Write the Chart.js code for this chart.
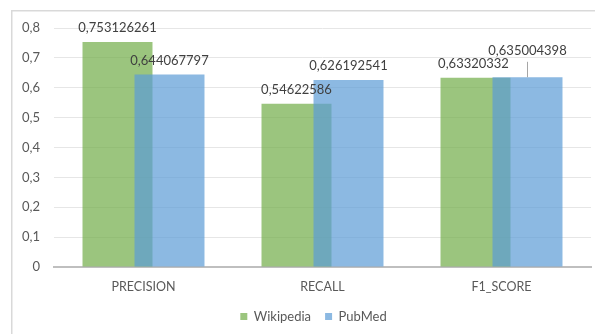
<!DOCTYPE html>
<html>
<head>
<meta charset="utf-8">
<script src="https://cdn.jsdelivr.net/npm/chart.js@4"></script>
<style>
  html, body { margin: 0; padding: 0; background: #ffffff; }
  #wrap { width: 595px; height: 334px; position: relative; }
</style>
</head>
<body>
<div id="wrap"><canvas id="chart" width="595" height="334"></canvas></div>
<script>
// Evaluation metrics per corpus
const categories = ['PRECISION', 'RECALL', 'F1_SCORE'];
const seriesNames = ['Wikipedia', 'PubMed'];
const wikipediaValues = [0.753126261, 0.54622586, 0.63320332];
const pubmedValues = [0.644067797, 0.626192541, 0.635004398];
const yTickLabels = ['0', '0,1', '0,2', '0,3', '0,4', '0,5', '0,6', '0,7', '0,8'];

const FONT = 'Lato, "Open Sans", "Liberation Sans", sans-serif';

// value -> "0,123" style text
function fmt(v) { return String(v).replace('.', ','); }

// Light frame around the chart
const framePlugin = {
  id: 'frame',
  beforeDraw(chart) {
    const ctx = chart.ctx;
    ctx.save();
    ctx.strokeStyle = '#d9d9d9';
    ctx.lineWidth = 1.5;
    ctx.beginPath();
    ctx.moveTo(11.75, chart.height + 2);
    ctx.lineTo(11.75, 10.75);
    ctx.lineTo(chart.width + 2, 10.75);
    ctx.stroke();
    ctx.restore();
  },
  afterLayout(chart) {
    // nudge the legend block a little to the right
    if (chart.legend) {
      chart.legend.left += 12;
      chart.legend.right += 12;
    }
  }
};

// Value labels above each bar; a label may be lifted with a leader line
function drawValueLabels(chart) {
  const ctx = chart.ctx;
  ctx.save();
  ctx.font = '13px ' + FONT;
  ctx.fillStyle = '#404040';
  ctx.textAlign = 'center';
  ctx.textBaseline = 'middle';
  chart.data.datasets.forEach((ds, di) => {
    const meta = chart.getDatasetMeta(di);
    const lifts = ds.labelLift || [];
    const shifts = ds.labelShift || [];
    meta.data.forEach((el, i) => {
      const lift = lifts[i] || 0;
      const x = el.x + (shifts[i] || 0);
      const y = el.y - 14 - lift;
      if (lift) {
        ctx.strokeStyle = '#a6a6a6';
        ctx.lineWidth = 1;
        ctx.beginPath();
        ctx.moveTo(Math.round(el.x) + 0.5, el.y);
        ctx.lineTo(Math.round(el.x) + 0.5, y + 11);
        ctx.stroke();
      }
      ctx.fillText(fmt(ds.data[i]), x, y);
    });
  });
  ctx.restore();
}

// Paint series in index order so later series sit on top of earlier ones
const drawOrderPlugin = {
  id: 'drawOrder',
  beforeDatasetsDraw(chart) {
    for (let i = 0; i < chart.data.datasets.length; i++) {
      const meta = chart.getDatasetMeta(i);
      if (!meta.hidden) meta.controller.draw();
    }
    drawValueLabels(chart);
    return false;
  }
};

new Chart(document.getElementById('chart'), {
  type: 'bar',
  data: {
    labels: categories,
    datasets: [
      {
        label: seriesNames[0],
        data: wikipediaValues,
        backgroundColor: 'rgba(112,173,71,0.7)',
        borderWidth: 0,
        labelShift: [0, 0, -2]
      },
      {
        label: seriesNames[1],
        data: pubmedValues,
        backgroundColor: 'rgba(91,155,213,0.7)',
        borderWidth: 0,
        labelLift: [0, 0, 12.5]
      }
    ]
  },
  options: {
    responsive: false,
    animation: false,
    devicePixelRatio: 1,
    categoryPercentage: 0.581,
    barPercentage: 1.346,
    layout: { padding: { left: 12, top: 28, right: 4, bottom: 1 } },
    plugins: {
      legend: {
        position: 'bottom',
        labels: {
          boxWidth: 7,
          boxHeight: 7,
          padding: 14,
          color: '#595959',
          font: { family: FONT, size: 13 }
        }
      },
      tooltip: { enabled: false }
    },
    scales: {
      x: {
        afterFit(scale) { scale.height = 29; },
        grid: { display: false, drawTicks: false },
        border: { display: true, color: '#bfbfbf', width: 2 },
        ticks: { color: '#595959', padding: 12, font: { family: FONT, size: 12.5 } }
      },
      y: {
        min: 0,
        max: 0.8,
        afterFit(scale) { scale.width = 42; },
        grid: {
          color: (c) => (c.tick && c.tick.value === 0 ? 'rgba(0,0,0,0)' : '#e6e6e6'),
          lineWidth: 1,
          drawTicks: false
        },
        border: { display: false },
        ticks: {
          stepSize: 0.1,
          padding: 14,
          color: '#595959',
          font: { family: FONT, size: 13 },
          callback: (v, i) => yTickLabels[i]
        }
      }
    }
  },
  plugins: [framePlugin, drawOrderPlugin]
});
</script>
</body>
</html>
